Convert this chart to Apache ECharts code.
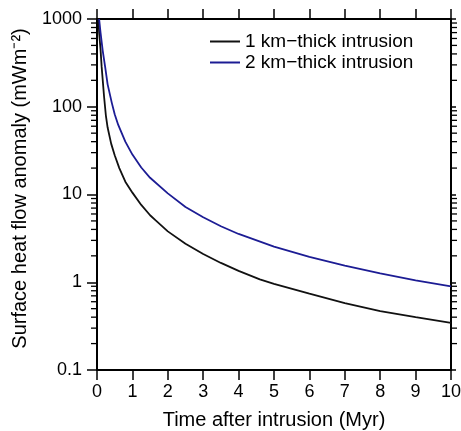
<!DOCTYPE html>
<html>
<head>
<meta charset="utf-8">
<script src="https://cdn.jsdelivr.net/npm/echarts@6/dist/echarts.min.js"></script>
<style>
  html, body { margin: 0; padding: 0; background: #fff; }
  #main { width: 461px; height: 431px; }
</style>
</head>
<body>
<div id="main"></div>
<script>
// 数据
const time1 = [0.04, 0.06, 0.1, 0.13, 0.2, 0.25, 0.3, 0.4, 0.5, 0.63, 0.8, 1.0, 1.25, 1.5, 1.65, 2, 2.5, 3, 3.5, 4, 4.6, 5, 6, 7, 8, 9, 10];
const flow1 = [1000, 700, 450, 290, 130, 80, 58, 38, 28, 20, 14, 10.5, 7.6, 5.8, 5.1, 3.8, 2.75, 2.1, 1.66, 1.35, 1.08, 0.96, 0.74, 0.58, 0.47, 0.40, 0.345];
const time2 = [0.06, 0.1, 0.16, 0.23, 0.3, 0.42, 0.5, 0.6, 0.8, 1.0, 1.25, 1.5, 2, 2.5, 3, 3.5, 4, 5, 6, 7, 8, 9, 10];
const flow2 = [1000, 700, 440, 285, 180, 110, 82, 62, 40, 28.5, 20.3, 15.5, 10.3, 7.2, 5.5, 4.35, 3.55, 2.55, 1.95, 1.55, 1.26, 1.05, 0.9];
const seriesNames = ['1 km\u2212thick intrusion', '2 km\u2212thick intrusion'];
// 对数轴的次刻度
const minorTicks = [0.2, 0.3, 0.4, 0.5, 0.6, 0.7, 0.8, 0.9,
  2, 3, 4, 5, 6, 7, 8, 9,
  20, 30, 40, 50, 60, 70, 80, 90,
  200, 300, 400, 500, 600, 700, 800, 900];

const font = 'Liberation Sans, Arial, Helvetica, sans-serif';

const zip = (xs, ys) => xs.map((x, i) => [x, ys[i]]);

const xBase = {
  type: 'value',
  min: 0,
  max: 10,
  interval: 1,
  axisLine: { onZero: false, lineStyle: { color: '#000', width: 2 } },
  axisTick: { length: 10, lineStyle: { color: '#000', width: 1.5 } },
  splitLine: { show: false }
};
const yBase = {
  type: 'log',
  logBase: 10,
  min: 0.1,
  max: 1000,
  axisLine: { show: true, onZero: false, lineStyle: { color: '#000', width: 2 } },
  axisTick: { show: true, length: 10, lineStyle: { color: '#000', width: 1.5 } },
  splitLine: { show: false }
};

const option = {
  animation: false,
  backgroundColor: '#fff',
  grid: { left: 97, right: 10, top: 19, bottom: 61, outerBoundsMode: 'none' },
  legend: {
    data: seriesNames,
    orient: 'vertical',
    left: 205,
    top: 27,
    icon: 'rect',
    itemWidth: 30,
    itemHeight: 2,
    itemGap: 2,
    textStyle: { fontFamily: font, fontSize: 19, color: '#000' }
  },
  xAxis: [
    Object.assign({}, xBase, {
      position: 'bottom',
      name: 'Time after intrusion (Myr)',
      nameLocation: 'middle',
      nameGap: 40,
      nameTextStyle: { fontFamily: font, fontSize: 20, color: '#000' },
      axisLabel: { fontFamily: font, fontSize: 18, color: '#000', margin: 13 }
    }),
    Object.assign({}, xBase, {
      position: 'top',
      axisLabel: { show: false }
    })
  ],
  yAxis: [
    Object.assign({}, yBase, {
      position: 'left',
      name: 'Surface heat flow anomaly (mWm\u207B\u00B2)',
      nameLocation: 'middle',
      nameGap: 67,
      nameTextStyle: { fontFamily: font, fontSize: 20, color: '#000', padding: [0, 0, 0, 12] },
      axisLabel: {
        fontFamily: font, fontSize: 18, color: '#000', margin: 15,
        formatter: v => String(v)
      }
    }),
    Object.assign({}, yBase, {
      position: 'right',
      axisLabel: { show: false },
      axisTick: { show: true, length: 5, lineStyle: { color: '#000', width: 1.5 } }
    })
  ],
  series: [
    {
      name: seriesNames[0],
      type: 'line',
      data: zip(time1, flow1),
      symbol: 'none',
      color: '#111',
      lineStyle: { width: 1.8, color: '#111' }
    },
    {
      name: seriesNames[1],
      type: 'line',
      data: zip(time2, flow2),
      symbol: 'none',
      color: '#1c1c94',
      lineStyle: { width: 1.8, color: '#1c1c94' }
    }
  ]
};

const myChart = echarts.init(document.getElementById('main'));
myChart.setOption(option);

// 次刻度：用坐标轴换算出像素位置，左右两侧都朝外画
const leftX = myChart.convertToPixel({ gridIndex: 0 }, [0, 1])[0];
const rightX = myChart.convertToPixel({ gridIndex: 0 }, [10, 1])[0];
const minorMarks = [];
minorTicks.forEach(v => {
  const y = myChart.convertToPixel({ yAxisIndex: 0 }, v);
  minorMarks.push({ type: 'rect', z: 100, silent: true,
    shape: { x: leftX - 6, y: y - 0.65, width: 6, height: 1.3 }, style: { fill: '#000' } });
  minorMarks.push({ type: 'rect', z: 100, silent: true,
    shape: { x: rightX, y: y - 0.65, width: 6, height: 1.3 }, style: { fill: '#000' } });
});
myChart.setOption({ graphic: minorMarks });
</script>
</body>
</html>
